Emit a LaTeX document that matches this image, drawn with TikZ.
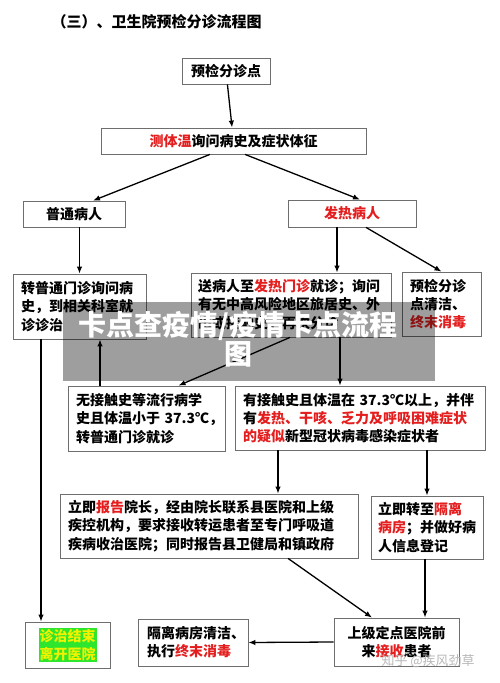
\documentclass[tikz,border=0pt]{standalone}
\usepackage{fontspec}
\setmainfont{Noto Sans CJK SC}
\usepackage{tikz}
\usetikzlibrary{calc,positioning,arrows.meta}
\definecolor{alertred}{HTML}{E41E1E}
\definecolor{edgegray}{HTML}{6E6E6E}
\definecolor{okgreen}{HTML}{2EE62E}
\definecolor{okyellow}{HTML}{F2F200}
\tikzset{
  flowbox/.style={draw=edgegray, line width=0.8pt, fill=white, inner xsep=8pt,
    inner ysep=0pt, align=left, font=\fontsize{14}{18.3}\selectfont\bfseries},
  flow/.style={line width=1.3pt, -{Latex[length=7pt,width=5.5pt]}}
}

\begin{document}
\begin{tikzpicture}[x=1pt, y=-1pt]
  \fill[white] (0,0) rectangle (500,683);
  \useasboundingbox (0,0) rectangle (500,683);

  \node[anchor=west, font=\fontsize{15}{18}\selectfont\bfseries] (title) at (48,22)
    {（三）、卫生院预检分诊流程图};

  \node[flowbox, align=center, minimum width=88pt, minimum height=26pt] (desk) at (226,71) {预检分诊点};
  \node[flowbox, align=center, minimum width=265pt, minimum height=26pt] (temp) at (233.5,141)
    {\textcolor{alertred}{测体温}询问病史及症状体征};
  \node[flowbox, align=center, minimum width=102pt, minimum height=26pt] (common) at (74,214) {普通病人};
  \node[flowbox, align=center, minimum width=128pt, minimum height=27pt] (fever) at (352,213.5)
    {\textcolor{alertred}{发热病人}};

  \node[flowbox, text width=117pt, minimum height=65pt] (referral) at (79.5,306.5)
    {转普通门诊询问病\\史，到相关科室就\\诊诊治};
  \node[flowbox, inner xsep=7pt, text width=186pt, minimum height=64pt] (clinic) at (291,305)
    {送病人至\textcolor{alertred}{发热门诊}就诊；询问\\有无中高风险地区旅居史、外\\出或接触史，再次分诊};
  \node[flowbox, text width=63pt, minimum height=64pt] (deskclean) at (441.5,304)
    {预检分诊\\点清洁、\\\textcolor{alertred}{终末消毒}};

  \node[flowbox, inner xsep=8pt, text width=141pt, minimum height=65pt] (nocontact) at (146.5,418.5)
    {无接触史等流行病学\\\mbox{史且体温小于 37.3℃，}\\转普通门诊就诊};
  \node[flowbox, text width=234pt, minimum height=64pt] (contact) at (360,418)
    {有接触史且体温在 37.3℃以上，并伴\\有\textcolor{alertred}{发热、干咳、乏力及呼吸困难症状}\\\textcolor{alertred}{的疑似}新型冠状病毒感染症状者};

  \node[flowbox, text width=282pt, minimum height=64pt] (report) at (209,526)
    {立即\textcolor{alertred}{报告}院长，经由院长联系县医院和上级\\疾控机构，要求接收转运患者至专门呼吸道\\疾病收治医院；同时报告县卫健局和镇政府};
  \node[flowbox, inner xsep=7pt, text width=98pt, minimum height=63pt] (isolate) at (427,527.5)
    {立即转至\textcolor{alertred}{隔离}\\\textcolor{alertred}{病房}；并做好病\\人信息登记};

  \node[flowbox, minimum width=85pt, minimum height=46pt] (finish) at (67.5,645) {};
  \node[fill=okgreen, text=okyellow, inner sep=1pt, align=center,
    font=\fontsize{14}{18}\selectfont\bfseries] (finishtext) at (finish.center) {诊治结束\\离开医院};
  \node[flowbox, inner xsep=9pt, text width=92pt, minimum height=47pt] (wardclean) at (193,642.5)
    {隔离病房清洁、\\执行\textcolor{alertred}{终末消毒}};
  \node[flowbox, align=center, minimum width=125pt, minimum height=48pt] (upper) at (396.5,642)
    {上级定点医院前\\来\textcolor{alertred}{接收}患者};

  \draw[flow] (desk) -- (temp);
  \draw[flow] ([xshift=-23.5pt]temp.south) -- ([xshift=19pt]common.north);
  \draw[flow] ([xshift=11.5pt]temp.south) -- ([xshift=8pt]fever.north);
  \draw[flow] (common.south -| referral.north) -- (referral.north);
  \draw[flow] ([xshift=-15pt]fever.south) -- ([xshift=-15pt]fever.south |- clinic.north);
  \draw[flow] ([xshift=14pt]fever.south) -- (deskclean.north);
  \draw[flow] ([xshift=-1pt]clinic.south) -- ([xshift=32pt]nocontact.north);
  \draw[flow] ([xshift=49pt]clinic.south) -- ([xshift=49pt]clinic.south |- contact.north);
  \draw[flow] ([xshift=-46.5pt]nocontact.north) -- ([xshift=-46.5pt]nocontact.north |- referral.south);
  \draw[flow] ([xshift=-26.5pt]finish.north |- referral.south) -- ([xshift=-26.5pt]finish.north);
  \draw[flow] ([xshift=-82pt]contact.south) -- ([xshift=-82pt]contact.south |- report.north);
  \draw[flow] (isolate.north |- contact.south) -- (isolate.north);
  \draw[flow] ([xshift=79pt]report.south) -- ([xshift=-24.5pt]upper.north);
  \draw[flow] ([xshift=-2pt]isolate.south) -- ([xshift=-2pt]isolate.south |- upper.north);
  \draw[flow] (upper.west) -- (wardclean.east);

  \fill[black, fill opacity=0.38] (63,302) rectangle (435,381);
  \node[text=white, align=center, font=\fontsize{28}{28}\selectfont\bfseries] (banner) at (238,339)
    {卡点查疫情/疫情卡点流程\\图};
  \node[text=gray!55, anchor=west, font=\fontsize{13}{15}\selectfont] (mark) at (378,661)
    {知乎 @疾风劲草};
\end{tikzpicture}
\end{document}
